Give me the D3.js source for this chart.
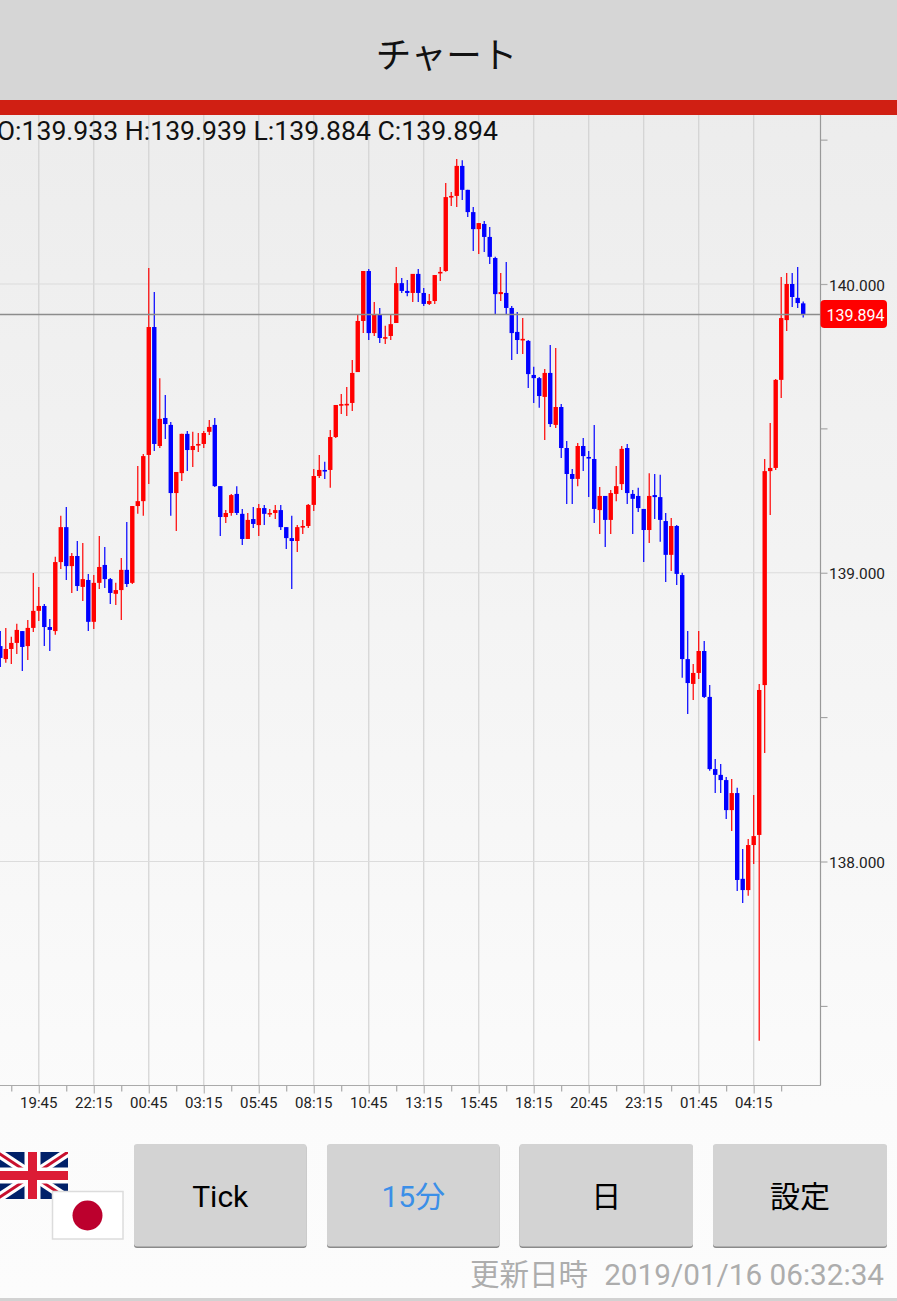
<!DOCTYPE html>
<html><head><meta charset="utf-8">
<script src="https://cdn.jsdelivr.net/npm/d3@7"></script>
<style>
html,body{margin:0;padding:0;background:#fbfbfb;overflow:hidden}
svg{display:block}
text{font-family:Roboto,"Noto Sans CJK JP",sans-serif}
</style></head><body>
<svg id="c" width="897" height="1301"></svg>
<script>
const opens=[138.746,138.701,138.736,138.757,138.798,138.746,138.809,138.868,138.885,138.812,
138.798,139.037,139.158,139.023,139.058,138.951,138.975,138.830,138.965,139.027,
138.978,138.927,138.940,139.010,138.965,139.231,139.248,139.408,139.851,139.439,
139.536,139.512,139.276,139.345,139.481,139.425,139.444,139.446,139.488,139.512,
139.300,139.193,139.207,139.273,139.204,139.117,139.186,139.165,139.224,139.206,
139.207,139.217,139.158,139.120,139.110,139.161,139.162,139.235,139.335,139.356,
139.356,139.470,139.583,139.583,139.588,139.695,139.872,140.045,139.830,139.893,
139.815,139.820,139.865,140.003,139.976,139.969,140.035,139.969,139.931,139.941,
140.040,140.045,140.301,140.305,140.409,140.326,140.249,140.190,140.208,140.163,
140.090,139.965,139.969,139.917,139.834,139.809,139.803,139.685,139.674,139.609,
139.692,139.512,139.574,139.432,139.342,139.325,139.439,139.401,139.394,139.217,
139.266,139.183,139.273,139.307,139.432,139.273,139.266,139.221,139.148,139.269,
139.262,139.179,139.062,139.162,138.992,138.701,138.615,138.653,138.729,138.570,
138.320,138.300,138.282,138.178,138.237,137.940,137.901,138.057,138.092,138.611,
139.352,139.363,139.668,139.875,140.000,139.952,139.933];
const highs=[138.798,138.809,138.778,138.823,138.798,138.836,138.999,138.951,138.892,138.840,
139.055,139.197,139.228,139.068,139.110,139.103,138.996,138.992,139.127,139.089,
138.982,138.965,139.051,139.176,139.231,139.370,139.411,140.055,139.972,139.674,
139.616,139.522,139.349,139.481,139.491,139.488,139.484,139.491,139.529,139.536,
139.300,139.217,139.273,139.300,139.221,139.207,139.228,139.238,139.235,139.221,
139.235,139.235,139.158,139.197,139.165,139.183,139.238,139.359,139.408,139.384,
139.494,139.581,139.619,139.643,139.737,139.893,140.045,140.052,139.938,139.917,
139.855,139.893,140.059,140.021,140.014,140.035,140.052,139.986,139.965,140.031,
140.059,140.350,140.319,140.433,140.429,140.326,140.267,140.211,140.218,140.197,
140.094,140.038,140.076,139.924,139.903,139.882,139.806,139.713,139.678,139.706,
139.789,139.778,139.584,139.456,139.359,139.449,139.467,139.422,139.512,139.297,
139.266,139.287,139.370,139.439,139.446,139.287,139.294,139.221,139.345,139.342,
139.339,139.207,139.190,139.165,139.000,138.798,138.684,138.798,138.764,138.611,
138.355,138.338,138.293,138.286,138.255,138.043,138.078,138.230,138.615,139.394,
139.519,139.671,140.024,140.038,140.038,140.059,139.939];
const lows=[138.674,138.688,138.684,138.719,138.660,138.698,138.795,138.833,138.746,138.729,
138.785,139.013,138.975,138.930,138.937,138.902,138.798,138.805,138.944,138.947,
138.892,138.888,138.836,138.951,138.961,139.204,139.197,139.307,139.422,139.432,
139.463,139.197,139.145,139.318,139.352,139.366,139.418,139.432,139.477,139.297,
139.127,139.172,139.197,139.200,139.096,139.117,139.155,139.127,139.165,139.193,
139.186,139.148,139.082,138.944,139.072,139.134,139.155,139.214,139.328,139.325,
139.294,139.467,139.550,139.543,139.560,139.695,139.830,139.806,139.820,139.796,
139.792,139.806,139.865,139.969,139.958,139.938,139.938,139.924,139.927,139.931,
140.010,140.042,140.270,140.267,140.291,140.232,140.114,140.104,140.111,140.069,
139.896,139.941,139.896,139.737,139.758,139.758,139.640,139.588,139.571,139.460,
139.505,139.501,139.397,139.238,139.238,139.300,139.352,139.262,139.172,139.134,
139.089,139.134,139.248,139.287,139.238,139.134,139.210,139.037,139.103,139.186,
139.107,138.968,139.006,138.958,138.636,138.511,138.559,138.632,138.566,138.314,
138.237,138.237,138.147,138.106,137.898,137.856,137.881,137.991,137.379,138.376,
139.200,139.356,139.605,139.837,139.920,139.917,139.884];
const closes=[138.705,138.736,138.757,138.802,138.743,138.809,138.868,138.885,138.812,138.802,
139.037,139.158,139.023,139.058,138.954,138.978,138.830,138.965,139.020,138.978,
138.930,138.940,139.010,138.961,139.231,139.248,139.404,139.851,139.446,139.533,
139.515,139.276,139.349,139.481,139.425,139.439,139.446,139.484,139.505,139.300,
139.193,139.207,139.269,139.207,139.117,139.183,139.169,139.224,139.204,139.207,
139.217,139.158,139.120,139.110,139.158,139.162,139.235,139.335,139.356,139.352,
139.470,139.581,139.584,139.585,139.692,139.872,140.045,139.830,139.893,139.813,
139.816,139.861,140.003,139.976,139.969,140.035,139.969,139.931,139.941,140.031,
140.042,140.301,140.305,140.409,140.326,140.249,140.190,140.211,140.163,140.094,
139.965,139.972,139.917,139.830,139.806,139.810,139.688,139.674,139.612,139.692,
139.515,139.574,139.432,139.342,139.325,139.439,139.404,139.400,139.221,139.266,
139.183,139.276,139.300,139.429,139.276,139.256,139.224,139.148,139.266,139.262,
139.183,139.062,139.162,138.996,138.701,138.618,138.653,138.729,138.570,138.320,
138.300,138.282,138.178,138.237,137.936,137.901,138.057,138.088,138.594,139.352,
139.363,139.668,139.882,140.000,139.955,139.934,139.894];

const timeLabels=["19:45","22:15","00:45","03:15","05:45","08:15","10:45","13:15","15:45","18:15","20:45","23:15","01:45","04:15"];
const majorIndex=[7,17,27,37,47,57,67,77,87,97,107,117,127,137];
const minorIndex=[2,12,22,32,42,52,62,72,82,92,102,112,122,132,142];
const priceMajor=[138,139,140];
const priceMinor=[137.5,138.5,139.5,140.5];
const lastPrice=139.894;
const headerTitle="チャート";
const ohlcText="O:139.933 H:139.939 L:139.884 C:139.894";
const buttonLabels=["Tick","15分","日","設定"];
const updateLabel="更新日時";
const updateTime="2019/01/16 06:32:34";

const W=897,H=1301,plotR=820.5,plotT=115,plotB=1085.5;
const svg=d3.select("#c");
const x=d3.scaleLinear().domain([0,146]).range([0.3,803.2]);
const y=d3.scaleLinear().domain([138,140]).range([861.5,284]);

const defs=svg.append("defs");
const g=defs.append("linearGradient").attr("id","bg").attr("x1",0).attr("x2",0).attr("y1",0).attr("y2",1);
g.append("stop").attr("offset",0).attr("stop-color","#ebebeb");
g.append("stop").attr("offset",0.85).attr("stop-color","#fbfbfb");
g.append("stop").attr("offset",1).attr("stop-color","#fcfcfc");
defs.append("clipPath").attr("id","plotClip").append("rect").attr("x",0).attr("y",plotT).attr("width",plotR).attr("height",plotB-plotT);

svg.append("rect").attr("width",W).attr("height",H).attr("fill","url(#bg)");

// grid
const grid=svg.append("g").attr("clip-path","url(#plotClip)");
grid.selectAll("line.v").data(majorIndex).join("line").attr("class","v")
  .attr("x1",d=>x(d)).attr("x2",d=>x(d)).attr("y1",plotT).attr("y2",plotB)
  .attr("stroke","#d2d2d2").attr("stroke-width",1.2);
grid.selectAll("line.h").data(priceMajor).join("line").attr("class","h")
  .attr("x1",0).attr("x2",plotR).attr("y1",d=>y(d)).attr("y2",d=>y(d))
  .attr("stroke","#dcdcdc").attr("stroke-width",1.2);

// candles
const idx=d3.range(opens.length);
const color=i=>closes[i]>=opens[i]?"#ff0000":"#0000ff";
const candles=svg.append("g").attr("clip-path","url(#plotClip)");
candles.selectAll("line.w").data(idx).join("line").attr("class","w")
  .attr("x1",i=>x(i)).attr("x2",i=>x(i)).attr("y1",i=>y(highs[i])).attr("y2",i=>y(lows[i]))
  .attr("stroke",color).attr("stroke-width",1.2);
candles.selectAll("rect").data(idx).join("rect")
  .attr("x",i=>x(i)-2.2).attr("width",4.4)
  .attr("y",i=>y(Math.max(opens[i],closes[i])))
  .attr("height",i=>Math.max(1.6,Math.abs(y(opens[i])-y(closes[i]))))
  .attr("fill",color);

// last price line
svg.append("line").attr("x1",0).attr("x2",plotR).attr("y1",y(lastPrice)).attr("y2",y(lastPrice))
  .attr("stroke","#8c8c8c").attr("stroke-width",1.5);

// axes
const xAxis=d3.axisBottom(x).tickValues(majorIndex).tickSize(8).tickPadding(4)
  .tickFormat(d=>timeLabels[majorIndex.indexOf(d)]);
const xg=svg.append("g").attr("transform",`translate(0,${plotB})`).call(xAxis);
xg.select(".domain").remove();
xg.selectAll(".tick line").attr("stroke","#b5b5b5").attr("stroke-width",1.2);
xg.selectAll(".tick text").attr("fill","#222").attr("font-size",15).attr("font-family",'Roboto').attr("dx",-0.5);
const xMinor=d3.axisBottom(x).tickValues(minorIndex).tickSize(6).tickFormat("");
const xm=svg.append("g").attr("transform",`translate(0,${plotB})`).call(xMinor);
xm.select(".domain").remove();
xm.selectAll(".tick line").attr("stroke","#999").attr("stroke-width",1);
svg.append("line").attr("x1",0).attr("x2",plotR).attr("y1",plotB).attr("y2",plotB).attr("stroke","#aaa").attr("stroke-width",1.2);

const yAxis=d3.axisRight(y).tickValues(priceMajor).tickSize(7).tickPadding(1.5).tickFormat(d3.format(".3f"));
const yg=svg.append("g").attr("transform",`translate(${plotR},0)`).call(yAxis);
yg.select(".domain").remove();
yg.selectAll(".tick line").attr("stroke","#aaa").attr("stroke-width",1.2);
yg.selectAll(".tick text").attr("fill","#222").attr("font-size",15.4).attr("font-family",'Roboto').attr("dy","0.4em");
const yMinor=d3.axisRight(y).tickValues(priceMinor).tickSize(7).tickFormat("");
const ym=svg.append("g").attr("transform",`translate(${plotR},0)`).call(yMinor);
ym.select(".domain").remove();
ym.selectAll(".tick line").attr("stroke","#999").attr("stroke-width",1);
svg.append("line").attr("x1",plotR).attr("x2",plotR).attr("y1",plotT).attr("y2",plotB).attr("stroke","#999").attr("stroke-width",1.2);

// last price badge
svg.append("rect").attr("x",plotR).attr("y",y(lastPrice)-14.5).attr("width",66.5).attr("height",28).attr("rx",4).attr("fill","#ff0000");
svg.append("text").attr("x",plotR+35).attr("y",y(lastPrice)+6).attr("text-anchor","middle").attr("fill","#fff").attr("font-size",16).attr("font-family","Roboto").text(d3.format(".3f")(lastPrice));

// header
svg.append("rect").attr("width",W).attr("height",100).attr("fill","#d6d6d6");
svg.append("rect").attr("y",100).attr("width",W).attr("height",15).attr("fill","#d01f13");
svg.append("text").attr("x",446.5).attr("y",68).attr("text-anchor","middle").attr("font-size",35.5).attr("fill","#111")
  .attr("font-family",'"Noto Sans CJK JP"').text(headerTitle);
svg.append("text").attr("x",498).attr("y",140).attr("text-anchor","end").attr("font-size",26.6).attr("fill","#111").attr("font-family","Roboto").text(ohlcText);

// flags
const uk=svg.append("g");
const ux=-3,uy=1152,uw=71,uh=47;
defs.append("clipPath").attr("id","ukc").append("rect").attr("x",ux).attr("y",uy).attr("width",uw).attr("height",uh);
const ukg=uk.append("g").attr("clip-path","url(#ukc)");
ukg.append("rect").attr("x",ux).attr("y",uy).attr("width",uw).attr("height",uh).attr("fill","#012169");
[[ux,uy,ux+uw,uy+uh],[ux,uy+uh,ux+uw,uy]].forEach(l=>{
  ukg.append("line").attr("x1",l[0]).attr("y1",l[1]).attr("x2",l[2]).attr("y2",l[3]).attr("stroke","#fff").attr("stroke-width",9);
  ukg.append("line").attr("x1",l[0]).attr("y1",l[1]).attr("x2",l[2]).attr("y2",l[3]).attr("stroke","#c8102e").attr("stroke-width",3);
});
ukg.append("rect").attr("x",ux+uw/2-8).attr("y",uy).attr("width",16).attr("height",uh).attr("fill","#fff");
ukg.append("rect").attr("x",ux).attr("y",uy+uh/2-8).attr("width",uw).attr("height",16).attr("fill","#fff");
ukg.append("rect").attr("x",ux+uw/2-4.5).attr("y",uy).attr("width",9).attr("height",uh).attr("fill","#dc1c35");
ukg.append("rect").attr("x",ux).attr("y",uy+uh/2-4.5).attr("width",uw).attr("height",9).attr("fill","#dc1c35");
svg.append("rect").attr("x",52.5).attr("y",1191.5).attr("width",70.5).attr("height",47.5).attr("fill","#fff").attr("stroke","#dcdcdc").attr("stroke-width",1.5);
svg.append("circle").attr("cx",87.5).attr("cy",1215.5).attr("r",15).attr("fill","#bc002d");

// buttons
const btnX=[134,327,519.5,713],btnW=[172.5,172.5,173.5,174];
const btn=svg.append("g").selectAll("g").data(buttonLabels).join("g");
btn.append("rect").attr("x",(d,i)=>btnX[i]).attr("y",1145).attr("width",(d,i)=>btnW[i]).attr("height",103).attr("rx",3).attr("fill","#8a8a8a");
btn.append("rect").attr("x",(d,i)=>btnX[i]).attr("y",1144).attr("width",(d,i)=>btnW[i]).attr("height",102.5).attr("rx",3).attr("fill","#d3d3d3");
btn.append("text").attr("x",(d,i)=>btnX[i]+btnW[i]/2).attr("y",1207).attr("text-anchor","middle").attr("font-size",30)
  .attr("fill",(d,i)=>i===1?"#3b8fe8":"#000").text(d=>d);

// update time
svg.append("text").attr("x",884).attr("y",1285).attr("text-anchor","end").attr("font-size",29.7).attr("fill","#adadad").attr("font-family","Roboto").text(updateTime);
svg.append("text").attr("x",588).attr("y",1285).attr("text-anchor","end").attr("font-size",29.5).attr("fill","#adadad").attr("font-family",'"Noto Sans CJK JP"').text(updateLabel);
svg.append("rect").attr("y",1298).attr("width",W).attr("height",3).attr("fill","#d2d2d2");
</script>
</body></html>
